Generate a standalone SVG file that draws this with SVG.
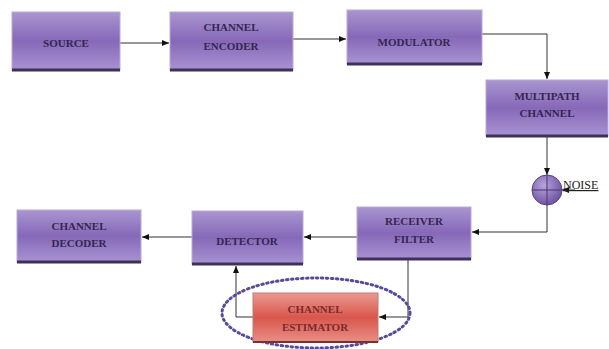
<svg xmlns="http://www.w3.org/2000/svg" width="609" height="349" viewBox="0 0 609 349">
<defs>
<linearGradient id="pg" x1="0" y1="0" x2="0" y2="1">
<stop offset="0" stop-color="#a996d0"/>
<stop offset="0.5" stop-color="#8668b8"/>
<stop offset="1" stop-color="#a893d2"/>
</linearGradient>
<linearGradient id="rg" x1="0" y1="0" x2="0" y2="1">
<stop offset="0" stop-color="#ea9a90"/>
<stop offset="0.5" stop-color="#d9564c"/>
<stop offset="1" stop-color="#e88f86"/>
</linearGradient>
<radialGradient id="cg" cx="0.4" cy="0.35" r="0.7">
<stop offset="0" stop-color="#b7a3dc"/>
<stop offset="1" stop-color="#6a4e9e"/>
</radialGradient>
<marker id="ah" markerWidth="8" markerHeight="8" refX="7" refY="4" orient="auto" markerUnits="userSpaceOnUse">
<path d="M0,1 L7,4 L0,7 Z" fill="#111"/>
</marker>
<style>
.box{fill:url(#pg);stroke:#b9aad6;stroke-width:1}
.rbox{fill:url(#rg);stroke:#c07a74;stroke-width:1}
.edge{stroke:#3e3158;stroke-width:3}
.lbl{font-family:"Liberation Serif",serif;font-size:11px;fill:#34264f;text-anchor:middle;font-weight:bold}
.rlbl{font-family:"Liberation Serif",serif;font-size:11px;fill:#7a2a2a;text-anchor:middle;font-weight:bold}
.conn{fill:none;stroke:#333;stroke-width:1}
</style>
</defs>
<g id="connectors">
<line class="conn" x1="120" y1="43" x2="169" y2="43" marker-end="url(#ah)"/>
<line class="conn" x1="293" y1="39" x2="346" y2="39" marker-end="url(#ah)"/>
<polyline class="conn" points="482,34 547,34 547,79" marker-end="url(#ah)"/>
<line class="conn" x1="547" y1="137" x2="547" y2="175" marker-end="url(#ah)"/>
<line class="conn" x1="575" y1="190" x2="562" y2="190" marker-end="url(#ah)"/>
<polyline class="conn" points="547,205 547,232 472,232" marker-end="url(#ah)"/>
<line class="conn" x1="357" y1="237" x2="304" y2="237" marker-end="url(#ah)"/>
<line class="conn" x1="192" y1="237" x2="142" y2="237" marker-end="url(#ah)"/>
<polyline class="conn" points="408,259 408,317 379,317" marker-end="url(#ah)"/>
<polyline class="conn" points="253,317 236,317 236,266" marker-end="url(#ah)"/>
</g>
<g id="source">
<rect class="box" x="12" y="12" width="108" height="58"/>
<line class="edge" x1="12" y1="70" x2="120" y2="70"/>
<text class="lbl" x="66" y="47">SOURCE</text>
</g>
<g id="channel-encoder">
<rect class="box" x="170" y="12" width="123" height="58"/>
<line class="edge" x1="170" y1="70" x2="293" y2="70"/>
<text class="lbl" x="231" y="31">CHANNEL</text>
<text class="lbl" x="231" y="50">ENCODER</text>
</g>
<g id="modulator">
<rect class="box" x="347" y="10" width="135" height="54"/>
<line class="edge" x1="347" y1="64" x2="482" y2="64"/>
<text class="lbl" x="414" y="46">MODULATOR</text>
</g>
<g id="multipath-channel">
<rect class="box" x="486" y="80" width="122" height="56"/>
<line class="edge" x1="486" y1="136" x2="608" y2="136"/>
<text class="lbl" x="547" y="100">MULTIPATH</text>
<text class="lbl" x="547" y="117">CHANNEL</text>
</g>
<g id="adder">
<circle cx="547" cy="190" r="15" fill="url(#cg)" stroke="#5a437f" stroke-width="1"/>
<line x1="532" y1="190" x2="562" y2="190" stroke="#4a3670" stroke-width="1"/>
<line x1="547" y1="175" x2="547" y2="205" stroke="#4a3670" stroke-width="1"/>
</g>
<g id="noise">
<text x="563" y="189" font-family="Liberation Serif, serif" font-size="12" fill="#222" text-decoration="underline">NOISE</text>
</g>
<g id="receiver-filter">
<rect class="box" x="357" y="207" width="114" height="52"/>
<line class="edge" x1="357" y1="259" x2="471" y2="259"/>
<text class="lbl" x="414" y="225">RECEIVER</text>
<text class="lbl" x="414" y="243">FILTER</text>
</g>
<g id="detector">
<rect class="box" x="192" y="211" width="111" height="53"/>
<line class="edge" x1="192" y1="264" x2="303" y2="264"/>
<text class="lbl" x="247" y="245">DETECTOR</text>
</g>
<g id="channel-decoder">
<rect class="box" x="17" y="210" width="124" height="52"/>
<line class="edge" x1="17" y1="262" x2="141" y2="262"/>
<text class="lbl" x="79" y="230">CHANNEL</text>
<text class="lbl" x="79" y="247">DECODER</text>
</g>
<g id="channel-estimator">
<ellipse cx="316" cy="313" rx="94" ry="35" fill="none" stroke="#5a4a9a" stroke-width="3" stroke-dasharray="1.5 3.5" stroke-linecap="round"/>
<rect class="rbox" x="253" y="293" width="125" height="49"/>
<line x1="253" y1="342" x2="378" y2="342" stroke="#7a3030" stroke-width="2"/>
<text class="rlbl" x="315" y="313">CHANNEL</text>
<text class="rlbl" x="315" y="331">ESTIMATOR</text>
</g>
</svg>
